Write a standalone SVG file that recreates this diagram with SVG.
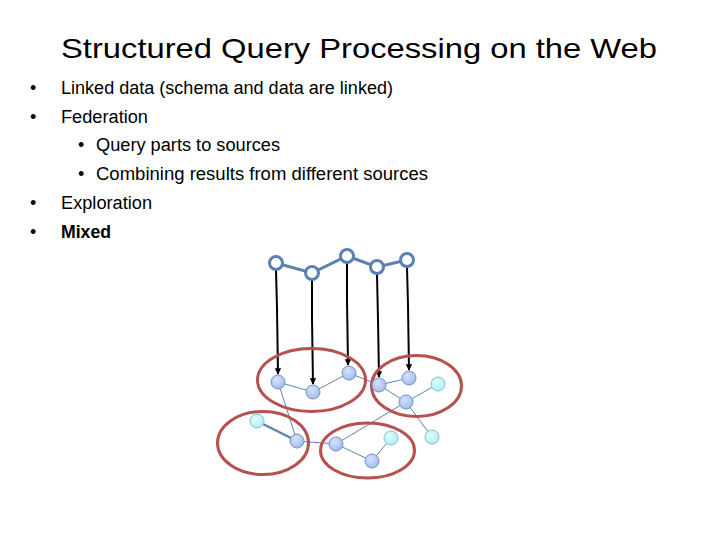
<svg xmlns="http://www.w3.org/2000/svg" width="720" height="540" viewBox="0 0 720 540">
<defs>
<marker id="ah" viewBox="0 0 10 10" refX="9" refY="5" markerWidth="3.2" markerHeight="3.2" orient="auto" markerUnits="strokeWidth">
<path d="M0,0 L10,5 L0,10 z" fill="#000"/>
</marker>
<radialGradient id="gb" cx="0.4" cy="0.35" r="0.7">
<stop offset="0" stop-color="#d6e2fb"/>
<stop offset="1" stop-color="#9fb9ec"/>
</radialGradient>
<radialGradient id="gc" cx="0.4" cy="0.35" r="0.7">
<stop offset="0" stop-color="#e4fbfd"/>
<stop offset="1" stop-color="#aeeef4"/>
</radialGradient>
</defs>
<style>
.t{font-family:"Liberation Sans",Arial,sans-serif;fill:#000}
.b{font-size:18px}
.q{fill:#fff;stroke:#5b80b2;stroke-width:3}
.qe{stroke:#5b80b2;stroke-width:3;fill:none}
.ar{stroke:#000;stroke-width:2;fill:none;marker-end:url(#ah)}
.e{stroke:#5f84ad;stroke-width:1;fill:none}
.et{stroke:#5f84ad;stroke-width:2.5;fill:none}
.n{fill:url(#gb);stroke:#7394cc;stroke-width:1}
.c{fill:url(#gc);stroke:#7cc3d0;stroke-width:1}
.el{fill:none;stroke:#b5514e;stroke-width:3}
</style>
<rect width="720" height="540" fill="#fff"/>
<text class="t" x="61" y="58" font-size="28" textLength="596" lengthAdjust="spacingAndGlyphs">Structured Query Processing on the Web</text>
<g class="t b">
<text x="30" y="94">•</text><text x="61" y="94" textLength="332" lengthAdjust="spacingAndGlyphs">Linked data (schema and data are linked)</text>
<text x="30" y="123">•</text><text x="61" y="123" textLength="87" lengthAdjust="spacingAndGlyphs">Federation</text>
<text x="78" y="151">•</text><text x="96" y="151" textLength="184" lengthAdjust="spacingAndGlyphs">Query parts to sources</text>
<text x="78" y="180">•</text><text x="96" y="180" textLength="332" lengthAdjust="spacingAndGlyphs">Combining results from different sources</text>
<text x="30" y="209">•</text><text x="61" y="209" textLength="91" lengthAdjust="spacingAndGlyphs">Exploration</text>
<text x="30" y="238">•</text><text x="61" y="238" font-weight="bold" textLength="50" lengthAdjust="spacingAndGlyphs">Mixed</text>
</g>
<g id="connectors">
<polyline class="qe" points="276,263 312,273 347,256 377,267 407,260"/>
<polyline class="ar" points="276,270 277,308 278,374"/>
<polyline class="ar" points="312,280 312,318 313,384"/>
<polyline class="ar" points="347,263 347,300 348,365"/>
<polyline class="ar" points="377,274 378,320 379,377"/>
<polyline class="ar" points="407,267 408,305 409,370"/>
<line class="e" x1="278" y1="382" x2="313" y2="392"/>
<line class="e" x1="313" y1="392" x2="349" y2="373"/>
<line class="e" x1="349" y1="373" x2="379" y2="385"/>
<line class="e" x1="379" y1="385" x2="409" y2="378"/>
<line class="e" x1="379" y1="385" x2="406" y2="402"/>
<line class="e" x1="406" y1="402" x2="438" y2="384"/>
<line class="e" x1="406" y1="402" x2="432" y2="437"/>
<line class="e" x1="406" y1="402" x2="336" y2="444"/>
<line class="e" x1="278" y1="382" x2="297" y2="441"/>
<line class="et" x1="257" y1="421" x2="297" y2="441"/>
<line class="e" x1="297" y1="441" x2="336" y2="444"/>
<line class="e" x1="336" y1="444" x2="372" y2="461"/>
<line class="e" x1="372" y1="461" x2="391" y2="438"/>
</g>
<g id="ellipses">
<ellipse class="el" cx="311.5" cy="380" rx="54" ry="31.5"/>
<ellipse class="el" cx="416.5" cy="386" rx="45" ry="30.5"/>
<ellipse class="el" cx="263" cy="443" rx="45.5" ry="31.5"/>
<ellipse class="el" cx="367.5" cy="450.5" rx="47" ry="27.5"/>
</g>
<g id="q1"><circle class="q" cx="276" cy="263" r="6.5"/></g>
<g id="q2"><circle class="q" cx="312" cy="273" r="6.5"/></g>
<g id="q3"><circle class="q" cx="347" cy="256" r="6.5"/></g>
<g id="q4"><circle class="q" cx="377" cy="267" r="6.5"/></g>
<g id="q5"><circle class="q" cx="407" cy="260" r="6.5"/></g>
<g id="nA"><circle class="n" cx="278" cy="382" r="7"/></g>
<g id="nB"><circle class="n" cx="313" cy="392" r="7"/></g>
<g id="nC"><circle class="n" cx="349" cy="373" r="7"/></g>
<g id="nD"><circle class="n" cx="379" cy="385" r="7"/></g>
<g id="nE"><circle class="n" cx="409" cy="378" r="7"/></g>
<g id="nF"><circle class="c" cx="438" cy="384" r="7"/></g>
<g id="nG"><circle class="n" cx="406" cy="402" r="7"/></g>
<g id="nH"><circle class="c" cx="257" cy="421" r="7"/></g>
<g id="nI"><circle class="n" cx="297" cy="441" r="7"/></g>
<g id="nJ"><circle class="n" cx="336" cy="444" r="7"/></g>
<g id="nK"><circle class="c" cx="391" cy="438" r="7"/></g>
<g id="nL"><circle class="n" cx="372" cy="461" r="7"/></g>
<g id="nM"><circle class="c" cx="432" cy="437" r="7"/></g>
</svg>
